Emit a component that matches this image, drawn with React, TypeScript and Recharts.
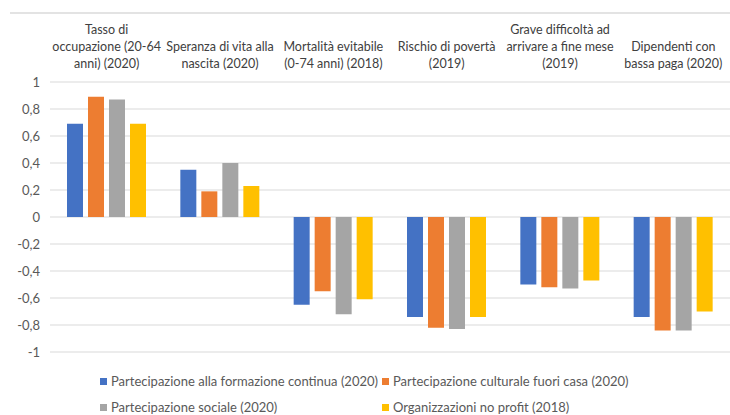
import { BarChart, Bar, XAxis, YAxis, CartesianGrid } from "recharts";

const FONT = "Lato, 'Open Sans', sans-serif";

const categories = [
  "Tasso di\noccupazione (20-64\nanni) (2020)",
  "Speranza di vita alla\nnascita (2020)",
  "Mortalità evitabile\n(0-74 anni) (2018)",
  "Rischio di povertà\n(2019)",
  "Grave difficoltà ad\narrivare a fine mese\n(2019)",
  "Dipendenti con\nbassa paga (2020)",
];

const formazione = [0.69, 0.35, -0.65, -0.74, -0.5, -0.74];
const culturale = [0.89, 0.19, -0.55, -0.82, -0.52, -0.84];
const sociale = [0.87, 0.4, -0.72, -0.83, -0.53, -0.84];
const noProfit = [0.69, 0.23, -0.61, -0.74, -0.47, -0.7];

const seriesKeys = ["formazione", "culturale", "sociale", "noProfit"];
const seriesNames = [
  "Partecipazione alla formazione continua (2020)",
  "Partecipazione culturale fuori casa (2020)",
  "Partecipazione sociale (2020)",
  "Organizzazioni no profit (2018)",
];
const seriesColors = ["#4472C4", "#ED7D31", "#A5A5A5", "#FFC000"];

const yTicks = [1, 0.8, 0.6, 0.4, 0.2, 0, -0.2, -0.4, -0.6, -0.8, -1];

const data = categories.map((name, i) => ({
  name,
  formazione: formazione[i],
  culturale: culturale[i],
  sociale: sociale[i],
  noProfit: noProfit[i],
}));

const fmt = (v: number) =>
  Number.isInteger(v) ? String(v) : v.toFixed(1).replace(".", ",");

function CategoryTick({ x, y, payload }: any) {
  const lines = String(payload.value).split("\n");
  const lineH = 17;
  const last = y - 14;
  return (
    <text x={x} textAnchor="middle" fill="#404040" fontSize={12.5} fontFamily={FONT}>
      {lines.map((l, i) => (
        <tspan key={i} x={x} y={last - (lines.length - 1 - i) * lineH}>
          {l}
        </tspan>
      ))}
    </text>
  );
}

export default function App() {
  return (
    <div
      style={{
        position: "absolute",
        left: 0,
        top: 0,
        width: 730,
        height: 415,
        background: "#fff",
        fontFamily: FONT,
      }}
    >
      <div
        style={{
          position: "absolute",
          left: 10,
          right: 0,
          top: 12,
          height: 0,
          borderTop: "2px solid #E3E3E3",
        }}
      />
      <BarChart
        width={730}
        height={415}
        data={data}
        margin={{ top: 12, right: 0, bottom: 63, left: 0 }}
        barSize={16}
        barGap={5}
      >
        <CartesianGrid vertical={false} stroke="#D9D9D9" />
        <XAxis
          dataKey="name"
          orientation="top"
          height={70}
          axisLine={false}
          tickLine={false}
          tickSize={0}
          tickMargin={0}
          interval={0}
          tick={<CategoryTick />}
        />
        <YAxis
          type="number"
          domain={[-1, 1]}
          ticks={yTicks}
          width={50}
          axisLine={false}
          tickLine={false}
          tickMargin={4}
          tickFormatter={fmt}
          tick={{ fill: "#595959", fontSize: 13, fontFamily: FONT }}
        />
        {seriesKeys.map((k, i) => (
          <Bar
            key={k}
            dataKey={k}
            name={seriesNames[i]}
            fill={seriesColors[i]}
            isAnimationActive={false}
          />
        ))}
      </BarChart>
      <div
        style={{
          position: "absolute",
          left: 100,
          top: 372,
          display: "grid",
          gridTemplateColumns: "282px 300px",
          rowGap: 8,
          fontSize: 13,
          color: "#595959",
          lineHeight: "18px",
        }}
      >
        {seriesNames.map((n, i) => (
          <div key={n} style={{ display: "flex", alignItems: "center", whiteSpace: "nowrap" }}>
            <span
              style={{
                display: "inline-block",
                width: 7,
                height: 7,
                background: seriesColors[i],
                marginRight: 4,
              }}
            />
            {n}
          </div>
        ))}
      </div>
    </div>
  );
}
